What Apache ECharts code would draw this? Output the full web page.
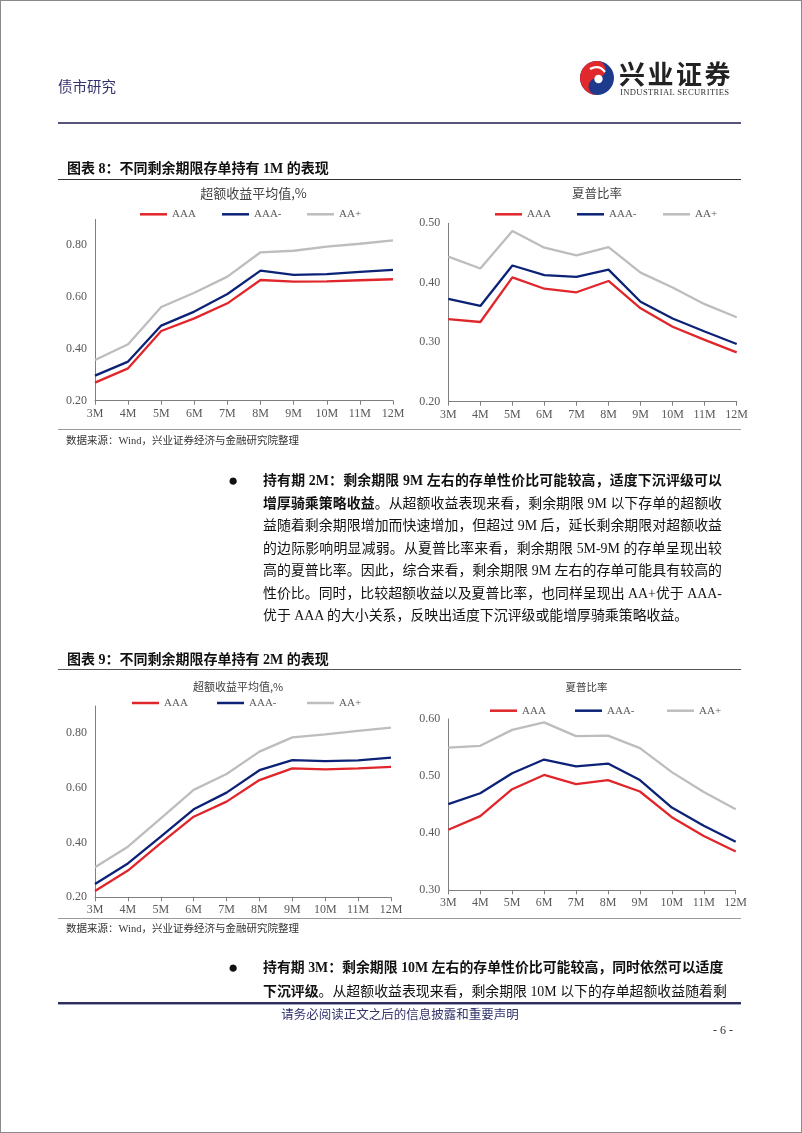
<!DOCTYPE html>
<html>
<head>
<meta charset="utf-8">
<script src="https://cdn.jsdelivr.net/npm/echarts@6/dist/echarts.min.js"></script>
<style>
  html,body{margin:0;padding:0;background:#fff;}
  #page{position:relative;width:802px;height:1133px;overflow:hidden;background:#fff;
        font-family:"Liberation Serif","Noto Sans CJK SC",serif;color:#111;}
  #frame{position:absolute;left:0;top:0;width:802px;height:1133px;box-sizing:border-box;border:1px solid #8a8a8a;z-index:3;pointer-events:none;}
  #chart{position:absolute;left:0;top:0;width:802px;height:1133px;z-index:1;}
  .t{position:absolute;z-index:2;white-space:nowrap;}
  .rule{position:absolute;z-index:2;left:58px;width:683px;}
  .pl{position:absolute;z-index:2;left:263px;width:459px;height:22px;line-height:22px;font-size:13.9px;
      text-align:justify;text-align-last:justify;white-space:nowrap;}
  .pl.last{text-align-last:left;}
  b{font-weight:bold;}
</style>
</head>
<body>
<div id="page">
  <div id="frame"></div>
  <div id="chart"></div>

  <!-- header -->
  <div class="t" style="left:58px;top:78px;height:18px;line-height:18px;font-size:14.5px;color:#33336b;">债市研究</div>
  <svg class="t" style="left:579px;top:60px;" width="36" height="36" viewBox="0 0 36 36">
    <circle cx="18" cy="18" r="17" fill="#1e3a8c"/>
    <path d="M18,1 A17,17 0 0,0 18,35 A8.5,8.5 0 0,1 18,18 A8.5,8.5 0 0,0 18,1 Z" fill="#e0282d"/>
    <circle cx="19.5" cy="19" r="4.2" fill="#fff"/>
    <path d="M11,9 Q20,4 26,12" stroke="#fff" stroke-width="2.2" fill="none"/>
  </svg>
  <div class="t" style="left:619px;top:59px;height:28px;line-height:28px;font-size:26px;font-weight:bold;letter-spacing:2.5px;color:#222;font-family:'Noto Sans CJK SC';">兴业证券</div>
  <div class="t" style="left:620px;top:87px;height:10px;line-height:10px;font-size:8.6px;letter-spacing:0.35px;color:#333;">INDUSTRIAL SECURITIES</div>
  <div class="rule" style="top:122px;height:1.5px;background:#555577;"></div>

  <!-- figure 8 -->
  <div class="t" style="left:67px;top:160px;height:18px;line-height:18px;font-size:14px;font-weight:bold;color:#111;">图表 8：不同剩余期限存单持有 1M 的表现</div>
  <div class="rule" style="top:179px;height:1px;background:#333;"></div>
  <div class="rule" style="top:429px;height:1px;background:#9a9a9a;"></div>
  <div class="t" style="left:66px;top:434px;height:14px;line-height:14px;font-size:10.5px;color:#333;">数据来源：Wind，兴业证券经济与金融研究院整理</div>

  <!-- paragraph 1 -->
  <div class="t" style="left:228px;top:471px;height:20px;line-height:20px;font-size:17px;color:#111;">●</div>
  <div class="pl" style="top:470px;"><b>持有期 2M：剩余期限 9M 左右的存单性价比可能较高，适度下沉评级可以</b></div>
  <div class="pl" style="top:492.5px;"><b>增厚骑乘策略收益</b>。从超额收益表现来看，剩余期限 9M 以下存单的超额收</div>
  <div class="pl" style="top:515px;">益随着剩余期限增加而快速增加，但超过 9M 后，延长剩余期限对超额收益</div>
  <div class="pl" style="top:537.5px;">的边际影响明显减弱。从夏普比率来看，剩余期限 5M-9M 的存单呈现出较</div>
  <div class="pl" style="top:560px;">高的夏普比率。因此，综合来看，剩余期限 9M 左右的存单可能具有较高的</div>
  <div class="pl" style="top:582.5px;">性价比。同时，比较超额收益以及夏普比率，也同样呈现出 AA+优于 AAA-</div>
  <div class="pl last" style="top:605px;">优于 AAA 的大小关系，反映出适度下沉评级或能增厚骑乘策略收益。</div>

  <!-- figure 9 -->
  <div class="t" style="left:67px;top:651px;height:18px;line-height:18px;font-size:14px;font-weight:bold;color:#111;">图表 9：不同剩余期限存单持有 2M 的表现</div>
  <div class="rule" style="top:669px;height:1px;background:#555;"></div>
  <div class="rule" style="top:918px;height:1px;background:#9a9a9a;"></div>
  <div class="t" style="left:66px;top:922px;height:14px;line-height:14px;font-size:10.5px;color:#333;">数据来源：Wind，兴业证券经济与金融研究院整理</div>

  <!-- paragraph 2 -->
  <div class="t" style="left:228px;top:958px;height:20px;line-height:20px;font-size:17px;color:#111;">●</div>
  <div class="pl" style="top:957px;"><b>持有期 3M：剩余期限 10M 左右的存单性价比可能较高，同时依然可以适度</b></div>
  <div class="pl" style="top:981px;"><b>下沉评级</b>。从超额收益表现来看，剩余期限 10M 以下的存单超额收益随着剩</div>

  <!-- footer -->
  <div class="rule" style="top:1002px;height:2px;background:#2e2e5c;"></div>
  <div class="rule" style="top:1004px;height:1px;background:#a0a0c0;"></div>
  <div class="t" style="left:0;width:800px;text-align:center;top:1006px;height:16px;line-height:16px;font-size:12.5px;color:#33336b;font-family:'Noto Sans CJK SC';">请务必阅读正文之后的信息披露和重要声明</div>
  <div class="t" style="left:713px;top:1022px;height:16px;line-height:16px;font-size:12px;color:#333;">- 6 -</div>
</div>

<script>
// ---- data ----
const months = ['3M','4M','5M','6M','7M','8M','9M','10M','11M','12M'];
const seriesNames = ['AAA','AAA-','AA+'];

// Figure 8: hold 1M
const hold1m_excess_AAA  = [0.270, 0.325, 0.469, 0.518, 0.576, 0.666, 0.660, 0.661, 0.665, 0.669];
const hold1m_excess_AAAm = [0.297, 0.351, 0.490, 0.544, 0.612, 0.702, 0.686, 0.689, 0.697, 0.705];
const hold1m_excess_AAp  = [0.357, 0.418, 0.562, 0.617, 0.679, 0.773, 0.779, 0.795, 0.806, 0.819];

const hold1m_sharpe_AAA  = [0.339, 0.334, 0.409, 0.390, 0.384, 0.403, 0.357, 0.326, 0.304, 0.283];
const hold1m_sharpe_AAAm = [0.373, 0.361, 0.429, 0.413, 0.410, 0.422, 0.368, 0.340, 0.318, 0.297];
const hold1m_sharpe_AAp  = [0.444, 0.424, 0.487, 0.459, 0.446, 0.460, 0.417, 0.392, 0.364, 0.342];

// Figure 9: hold 2M
const hold2m_excess_AAA  = [0.223, 0.298, 0.398, 0.495, 0.550, 0.629, 0.672, 0.668, 0.672, 0.677];
const hold2m_excess_AAAm = [0.249, 0.324, 0.422, 0.522, 0.583, 0.665, 0.702, 0.698, 0.701, 0.711];
const hold2m_excess_AAp  = [0.310, 0.385, 0.489, 0.593, 0.651, 0.733, 0.785, 0.796, 0.809, 0.821];

const hold2m_sharpe_AAA  = [0.406, 0.430, 0.477, 0.502, 0.486, 0.493, 0.473, 0.428, 0.395, 0.368];
const hold2m_sharpe_AAAm = [0.451, 0.470, 0.505, 0.529, 0.517, 0.522, 0.493, 0.445, 0.413, 0.385];
const hold2m_sharpe_AAp  = [0.550, 0.553, 0.581, 0.594, 0.570, 0.571, 0.549, 0.507, 0.472, 0.442];

const chartTitles = ['超额收益平均值,%', '夏普比率', '超额收益平均值,%', '夏普比率'];
const colors = ['#e0262b', '#0c2277', '#bdbdbd'];

// ---- layout ----
const grids = [
  {left: 95,    top: 219.4, width: 298,   height: 181.3},
  {left: 448.3, top: 223.3, width: 288.4, height: 178.4},
  {left: 95,    top: 706,   width: 296,   height: 191.3},
  {left: 448.3, top: 719,   width: 287.4, height: 171.3}
];
const yRanges = [
  {min: 0.2, max: 0.9, interval: 0.2, showMax: false},
  {min: 0.2, max: 0.5, interval: 0.1, showMax: true},
  {min: 0.2, max: 0.9, interval: 0.2, showMax: false},
  {min: 0.3, max: 0.6, interval: 0.1, showMax: true}
];
const dataSets = [
  [hold1m_excess_AAA, hold1m_excess_AAAm, hold1m_excess_AAp],
  [hold1m_sharpe_AAA, hold1m_sharpe_AAAm, hold1m_sharpe_AAp],
  [hold2m_excess_AAA, hold2m_excess_AAAm, hold2m_excess_AAp],
  [hold2m_sharpe_AAA, hold2m_sharpe_AAAm, hold2m_sharpe_AAp]
];
const titlePos = [
  {x: 253.5, y: 193, size: 13},
  {x: 597,   y: 193, size: 12.5},
  {x: 238,   y: 687, size: 11},
  {x: 586.5, y: 687, size: 10.5}
];
const legendPos = [
  {y: 214.3, xs: [140, 222, 307]},
  {y: 214.3, xs: [495, 577, 663]},
  {y: 703,   xs: [132, 217, 307]},
  {y: 710.7, xs: [490, 575, 667]}
];

const axisColor = '#7f7f7f';
const labelFont = {color: '#595959', fontFamily: 'Liberation Serif', fontSize: 12};

const xAxis = [], yAxis = [], series = [], legend = [], graphic = [];
grids.forEach((g, i) => {
  xAxis.push({
    type: 'category', gridIndex: i, data: months, boundaryGap: false,
    axisLine: {lineStyle: {color: axisColor, width: 1}},
    axisTick: {show: true, length: 4, lineStyle: {color: axisColor}},
    axisLabel: Object.assign({margin: 7, interval: 0}, labelFont),
    splitLine: {show: false}
  });
  const r = yRanges[i];
  yAxis.push({
    type: 'value', gridIndex: i, min: r.min, max: r.max, interval: r.interval,
    axisLine: {show: true, lineStyle: {color: axisColor, width: 1}},
    axisTick: {show: false},
    splitLine: {show: false},
    axisLabel: Object.assign({margin: 8, showMaxLabel: r.showMax, showMinLabel: true,
      formatter: v => v.toFixed(2)}, labelFont)
  });
  dataSets[i].forEach((d, k) => {
    series.push({
      type: 'line', name: seriesNames[k], xAxisIndex: i, yAxisIndex: i, data: d,
      symbol: 'none', smooth: false, z: 10 - k,
      itemStyle: {color: colors[k]},
      lineStyle: {color: colors[k], width: 2.3}
    });
    legend.push({
      data: [seriesNames[k]], left: legendPos[i].xs[k], top: legendPos[i].y - 6.5,
      padding: 0, icon: 'rect', itemWidth: 27, itemHeight: 2.5, itemGap: 0,
      selectedMode: false,
      textStyle: {color: '#595959', fontFamily: 'Liberation Serif', fontSize: 11, lineHeight: 13}
    });
  });
  const tp = titlePos[i];
  graphic.push({
    type: 'text', x: tp.x, y: tp.y, z: 100,
    style: {
      text: chartTitles[i], fill: '#404040',
      font: tp.size + 'px "Noto Sans CJK SC"',
      align: 'center', verticalAlign: 'middle',
      textAlign: 'center', textVerticalAlign: 'middle'
    }
  });
});

const chart = echarts.init(document.getElementById('chart'), null, {renderer: 'canvas', width: 802, height: 1133});
chart.setOption({
  animation: false,
  backgroundColor: 'transparent',
  grid: grids,
  xAxis, yAxis, series, legend, graphic
});
</script>
</body>
</html>
